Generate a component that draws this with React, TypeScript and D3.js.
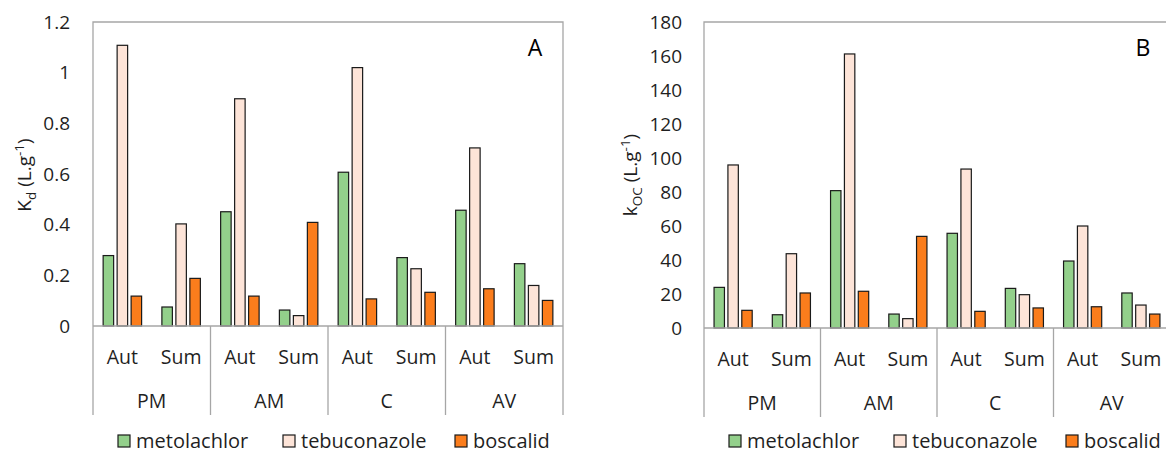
import * as React from "react";
import * as d3 from "d3";

const sites = ["PM", "AM", "C", "AV"];
const seasons = ["Aut", "Sum"];
const pesticides = ["metolachlor", "tebuconazole", "boscalid"];
const colors = ["#93d08b", "#fde4d8", "#fb7d1c"];

// order: PM Aut, PM Sum, AM Aut, AM Sum, C Aut, C Sum, AV Aut, AV Sum
const kdMetolachlor = [0.278, 0.075, 0.451, 0.063, 0.607, 0.27, 0.457, 0.246];
const kdTebuconazole = [1.108, 0.403, 0.897, 0.041, 1.02, 0.226, 0.703, 0.16];
const kdBoscalid = [0.118, 0.188, 0.118, 0.409, 0.107, 0.133, 0.147, 0.101];

const kocMetolachlor = [23.9, 7.8, 80.8, 8.2, 55.7, 23.3, 39.4, 20.6];
const kocTebuconazole = [95.9, 43.7, 161.2, 5.5, 93.5, 19.6, 60, 13.5];
const kocBoscalid = [10.4, 20.6, 21.6, 53.9, 9.8, 11.8, 12.5, 8.2];

const kdTicks = [0, 0.2, 0.4, 0.6, 0.8, 1, 1.2];
const kocTicks = [0, 20, 40, 60, 80, 100, 120, 140, 160, 180];

const FONT = "'Open Sans', 'Noto Sans', sans-serif";
const GRID = "#a6a6a6";
const INK = "#1f1f1f";

function drawPanel(svg, p) {
  const g = svg.append("g");
  const slots = d3.cross(sites, seasons).map(([s, t]) => s + "|" + t);

  const x = d3.scaleBand().domain(slots).range([p.left, p.right]);
  const xi = d3
    .scaleBand()
    .domain(pesticides)
    .range([0, x.bandwidth()])
    .paddingInner(0.25)
    .paddingOuter(0.725);
  const xs = d3.scaleBand().domain(sites).range([p.left, p.right]);
  const y = d3.scaleLinear().domain([0, p.max]).range([p.bottom, p.top]);

  // plot area frame
  g.append("path")
    .attr("d", `M${p.left},${p.bottom}V${p.top}H${p.right}V${p.bottom}`)
    .attr("fill", "none")
    .attr("stroke", GRID)
    .attr("stroke-width", 1.3);

  // bars
  pesticides.forEach((name, k) => {
    g.selectAll(".bar-" + k)
      .data(p.series[k])
      .enter()
      .append("rect")
      .attr("x", (d, i) => x(slots[i]) + xi(name))
      .attr("y", (d) => y(d))
      .attr("width", xi.bandwidth())
      .attr("height", (d) => y(0) - y(d))
      .attr("fill", colors[k])
      .attr("stroke", "#1a1a1a")
      .attr("stroke-width", 1.2);
  });

  // baseline
  g.append("line")
    .attr("x1", p.left)
    .attr("x2", p.right)
    .attr("y1", y(0))
    .attr("y2", y(0))
    .attr("stroke", GRID)
    .attr("stroke-width", 1.3);

  // group dividers
  const edges = sites.map((s) => xs(s)).concat([p.right]);
  g.selectAll(".divider")
    .data(edges)
    .enter()
    .append("line")
    .attr("x1", (d) => d)
    .attr("x2", (d) => d)
    .attr("y1", y(0))
    .attr("y2", y(0) + 89)
    .attr("stroke", GRID)
    .attr("stroke-width", 1.3);

  // y ticks
  g.selectAll(".ytick")
    .data(p.ticks)
    .enter()
    .append("text")
    .attr("x", p.tickX)
    .attr("y", (d) => y(d))
    .attr("dy", "0.35em")
    .attr("text-anchor", "end")
    .attr("font-size", 19)
    .attr("fill", INK)
    .text((d) => String(d));

  // season labels
  g.selectAll(".season")
    .data(slots)
    .enter()
    .append("text")
    .attr("x", (d) => x(d) + x.bandwidth() / 2)
    .attr("y", y(0) + 31)
    .attr("dy", "0.35em")
    .attr("text-anchor", "middle")
    .attr("font-size", 19.5)
    .attr("fill", INK)
    .text((d) => d.split("|")[1]);

  // site labels
  g.selectAll(".site")
    .data(sites)
    .enter()
    .append("text")
    .attr("x", (d) => xs(d) + xs.bandwidth() / 2)
    .attr("y", y(0) + 75)
    .attr("dy", "0.35em")
    .attr("text-anchor", "middle")
    .attr("font-size", 19.5)
    .attr("fill", INK)
    .text((d) => d);

  // y title
  const t = g
    .append("text")
    .attr("transform", `translate(${p.titleX},175) rotate(-90)`)
    .attr("text-anchor", "middle")
    .attr("dy", "0.35em")
    .attr("font-size", 19)
    .attr("fill", INK);
  t.append("tspan").text(p.titleMain);
  t.append("tspan").attr("font-size", 13.5).attr("dy", 5).text(p.titleSub);
  t.append("tspan").attr("dy", -5).text(" (L.g");
  t.append("tspan").attr("font-size", 13.5).attr("dy", -7).text("-1");
  t.append("tspan").attr("dy", 7).text(")");

  // panel letter
  g.append("text")
    .attr("x", p.letterX)
    .attr("y", 48)
    .attr("dy", "0.35em")
    .attr("text-anchor", "middle")
    .attr("font-size", 23)
    .attr("fill", "#000")
    .text(p.letter);

  // legend
  const offsets = [0, 165, 337];
  const lg = g
    .selectAll(".legend")
    .data(pesticides)
    .enter()
    .append("g")
    .attr("transform", (d, i) => `translate(${p.legendX + offsets[i]},441)`);
  lg.append("rect")
    .attr("x", 0)
    .attr("y", -6)
    .attr("width", 12)
    .attr("height", 12)
    .attr("fill", (d, i) => colors[i])
    .attr("stroke", "#1a1a1a")
    .attr("stroke-width", 1.2);
  lg.append("text")
    .attr("x", 18)
    .attr("y", 0)
    .attr("dy", "0.35em")
    .attr("font-size", 20)
    .attr("fill", INK)
    .text((d) => d);
}

const App = () => {
  const svgRef = React.useRef(null);

  React.useEffect(() => {
    const svg = d3.select(svgRef.current);
    svg.selectAll("*").remove();
    svg.attr("font-family", FONT);

    drawPanel(svg, {
      left: 93,
      right: 563,
      top: 22,
      bottom: 326,
      max: 1.2,
      ticks: kdTicks,
      tickX: 70,
      titleX: 24,
      titleMain: "K",
      titleSub: "d",
      letter: "A",
      letterX: 535,
      legendX: 118,
      series: [kdMetolachlor, kdTebuconazole, kdBoscalid],
    });

    drawPanel(svg, {
      left: 704,
      right: 1170,
      top: 22,
      bottom: 328,
      max: 180,
      ticks: kocTicks,
      tickX: 682,
      titleX: 630,
      titleMain: "k",
      titleSub: "OC",
      letter: "B",
      letterX: 1143,
      legendX: 729,
      series: [kocMetolachlor, kocTebuconazole, kocBoscalid],
    });
  }, []);

  return (
    <svg
      ref={svgRef}
      width={1166}
      height={455}
      style={{ position: "absolute", left: 0, top: 0, background: "#fff" }}
    />
  );
};

export default App;
